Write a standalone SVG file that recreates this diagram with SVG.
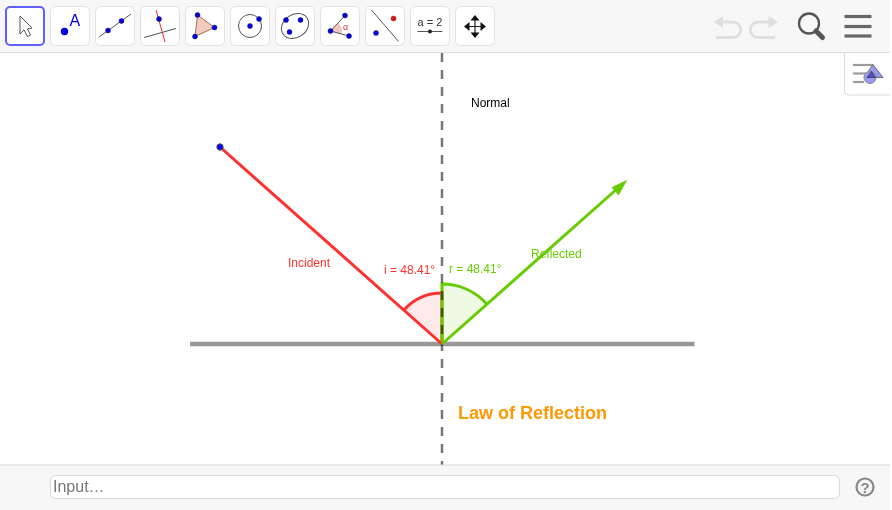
<svg xmlns="http://www.w3.org/2000/svg" width="892" height="510" viewBox="0 0 892 510">
<style>
text{font-family:"Liberation Sans",Arial,sans-serif}
.btn{fill:#fff;stroke:#e2e2e2;stroke-width:1}
.pt{fill:#0000e0;stroke:#1a1a60;stroke-width:.5}
.thin{fill:none;stroke:#555;stroke-width:1}
.lbl{font-size:12px}
</style>
<rect width="892" height="510" fill="#fff"/>
<g id="toolbar">
<rect x="0" y="0" width="890" height="52" fill="#f7f7f7"/>
<line x1="0" y1="52.500" x2="890" y2="52.500" stroke="#dcdcdc"/>
<rect x="6" y="7" width="38" height="38" rx="4" fill="#fff" stroke="#6060ff" stroke-width="2"/>
<path d="M20 16 L20 34 L24 30 L27.500 36.500 L30.500 35 L27.500 29 L32 28 Z" fill="#fff" stroke="#555" stroke-width="1"/>
<rect class="btn" x="50.500" y="6.500" width="39" height="39" rx="5"/>
<circle cx="64.500" cy="31.500" r="3.700" fill="#0000e0"/>
<text x="69.500" y="25.500" font-size="16" fill="#0000e0">A</text>
<rect class="btn" x="95.500" y="6.500" width="39" height="39" rx="5"/>
<line class="thin" x1="99" y1="37" x2="131" y2="14"/>
<circle class="pt" cx="108" cy="30.500" r="2.500"/><circle class="pt" cx="121.500" cy="21" r="2.500"/>
<rect class="btn" x="140.500" y="6.500" width="39" height="39" rx="5"/>
<line x1="156" y1="10" x2="165" y2="42" stroke="#f03030"/>
<line class="thin" x1="144" y1="37.500" x2="176" y2="28.500"/>
<circle class="pt" cx="159" cy="19" r="2.500"/>
<rect class="btn" x="185.500" y="6.500" width="39" height="39" rx="5"/>
<path d="M197.500 15 L214.500 27.500 L195 36.500 Z" fill="#f0ccc0" stroke="#a87050"/>
<circle class="pt" cx="197.500" cy="15" r="2.500"/><circle class="pt" cx="214.500" cy="27.500" r="2.500"/><circle class="pt" cx="195" cy="36.500" r="2.500"/>
<rect class="btn" x="230.500" y="6.500" width="39" height="39" rx="5"/>
<circle class="thin" cx="250" cy="26" r="11.500"/>
<circle class="pt" cx="250" cy="26" r="2.500"/><circle class="pt" cx="259" cy="19" r="2.500"/>
<rect class="btn" x="275.500" y="6.500" width="39" height="39" rx="5"/>
<ellipse class="thin" cx="295" cy="26" rx="14.500" ry="11.500" transform="rotate(-35 295 26)"/>
<circle class="pt" cx="286" cy="20" r="2.500"/><circle class="pt" cx="300.500" cy="20" r="2.500"/><circle class="pt" cx="289.500" cy="32" r="2.500"/>
<rect class="btn" x="320.500" y="6.500" width="39" height="39" rx="5"/>
<path d="M330.500 31 L338 23 A12 12 0 0 1 341.500 34 Z" fill="#f4c4c0"/>
<line class="thin" x1="330.500" y1="31" x2="345" y2="15.500"/><line class="thin" x1="330.500" y1="31" x2="349" y2="36"/>
<circle class="pt" cx="330.500" cy="31" r="2.500"/><circle class="pt" cx="345" cy="15.500" r="2.500"/><circle class="pt" cx="349" cy="36" r="2.500"/>
<text x="343" y="29.500" font-size="9" fill="#e03030">α</text>
<rect class="btn" x="365.500" y="6.500" width="39" height="39" rx="5"/>
<line class="thin" x1="371.500" y1="10" x2="398.500" y2="41.500"/>
<circle cx="393.500" cy="18.500" r="2.500" fill="#e81010" stroke="#702020" stroke-width=".5"/><circle class="pt" cx="376" cy="33" r="2.500"/>
<rect class="btn" x="410.500" y="6.500" width="39" height="39" rx="5"/>
<text x="430" y="25.500" font-size="11" fill="#333" text-anchor="middle">a = 2</text>
<line class="thin" x1="417.500" y1="31.500" x2="442.500" y2="31.500"/>
<circle cx="430" cy="31.500" r="2" fill="#222"/>
<rect class="btn" x="455.500" y="6.500" width="39" height="39" rx="5"/>
<path d="M475 18 V35 M467 26.500 H483" stroke="#222" stroke-width="1.200" fill="none"/>
<path d="M475 15 L479.500 20.500 L470.500 20.500 Z M475 38 L479.500 32.500 L470.500 32.500 Z M464 26.500 L469.500 22 L469.500 31 Z M486 26.500 L480.500 22 L480.500 31 Z" fill="#111"/>
<g fill="none" stroke="#dfdfdf" stroke-width="2.800">
<path d="M718 22 H733 A7.500 7.500 0 0 1 733 37.500 H716"/>
<path d="M773 22 H758 A7.500 7.500 0 0 0 758 37.500 H775"/>
</g>
<path d="M713.500 22 L723 16 L723 28 Z" fill="#dfdfdf"/>
<path d="M778 22 L768.500 16 L768.500 28 Z" fill="#dfdfdf"/>
<circle cx="809" cy="23.500" r="10" fill="none" stroke="#555" stroke-width="2.300"/>
<line x1="816" y1="31" x2="822.500" y2="37.500" stroke="#555" stroke-width="5" stroke-linecap="round"/>
<g stroke="#666" stroke-width="3.200"><line x1="844.500" y1="16.500" x2="871.500" y2="16.500"/><line x1="844.500" y1="26.500" x2="871.500" y2="26.500"/><line x1="844.500" y1="36" x2="871.500" y2="36"/></g>
</g>
<g id="style-panel-button">
<path d="M844.500 53 V91 A4 4 0 0 0 848.500 95 H890" fill="#fff" stroke="#dcdcdc"/>
<g stroke="#9b9b9b" stroke-width="2.200"><line x1="853" y1="65" x2="873" y2="65"/><line x1="853" y1="73.500" x2="867" y2="73.500"/><line x1="853" y1="82" x2="864" y2="82"/></g>
<path d="M873 64.500 L883 77.500 L864 77.500 Z" fill="#9898f0" stroke="#555" stroke-width=".8"/>
<circle cx="870" cy="77.500" r="6" fill="#9898f0" stroke="#8a8a8a" stroke-width="1"/>
<path d="M871.500 71.500 L867 77.500 L875.500 77.500 Z" fill="#5050c0" stroke="#222" stroke-width=".6"/>
</g>
<g id="angle-i">
<path d="M442 344 L403.900 310.100 A51 51 0 0 1 442 293 Z" fill="#ff3030" fill-opacity=".1"/>
<path d="M403.900 310.100 A51 51 0 0 1 442 293 V344" fill="none" stroke="#ff3030" stroke-width="3"/>
</g>
<g id="angle-r">
<path d="M442 344 L442 284 A60 60 0 0 1 486.900 304.200 Z" fill="#66cc00" fill-opacity=".1"/>
<path d="M442 344 V284 A60 60 0 0 1 486.900 304.200" fill="none" stroke="#66cc00" stroke-width="3"/>
</g>
<g id="connectors">
<line id="mirror" x1="190" y1="344" x2="694.500" y2="344" stroke="#999" stroke-width="4.500"/>
<line id="normal-line" x1="442" y1="53" x2="442" y2="465" stroke="#777" stroke-width="2.500" stroke-dasharray="9 8" style="mix-blend-mode:multiply"/>
<line id="incident" x1="220" y1="147" x2="442" y2="344" stroke="#ff3030" stroke-width="3"/>
<line id="reflected" x1="442" y1="344" x2="618" y2="188" stroke="#66cc00" stroke-width="3"/>
<path d="M626.500 180.500 L612 187.500 L615.500 191 L618.500 195 Z" fill="#66cc00" stroke="#66cc00" stroke-width=".8"/>
</g>
<g id="node-point"><circle cx="220" cy="147" r="3.200" fill="#0000ff" stroke="#555" stroke-width="1"/></g>
<g id="label-normal"><text class="lbl" x="471" y="107" fill="#000">Normal</text></g>
<g id="label-incident"><text class="lbl" x="288" y="267" fill="#ff3030">Incident</text></g>
<g id="label-reflected"><text class="lbl" x="531" y="258" fill="#66cc00">Reflected</text></g>
<g id="label-i"><text class="lbl" x="384" y="274" fill="#ff3030">i = 48.41°</text></g>
<g id="label-r"><text class="lbl" x="449" y="273" fill="#66cc00">r = 48.41°</text></g>
<g id="title"><text x="458" y="419" font-size="18" font-weight="bold" fill="#ff9900">Law of Reflection</text></g>
<g id="input-bar">
<rect x="0" y="465" width="890" height="45" fill="#f7f7f7"/>
<line x1="0" y1="465" x2="890" y2="465" stroke="#dcdcdc"/>
<rect x="50.500" y="475.500" width="789" height="23" rx="5" fill="#fff" stroke="#d8d8d8"/>
<text x="53" y="492" font-size="16" fill="#777">Input…</text>
<circle cx="865" cy="487" r="8.500" fill="none" stroke="#888" stroke-width="2.200"/>
<text x="865" y="492.500" font-size="15" font-weight="bold" fill="#888" text-anchor="middle">?</text>
</g>
</svg>
